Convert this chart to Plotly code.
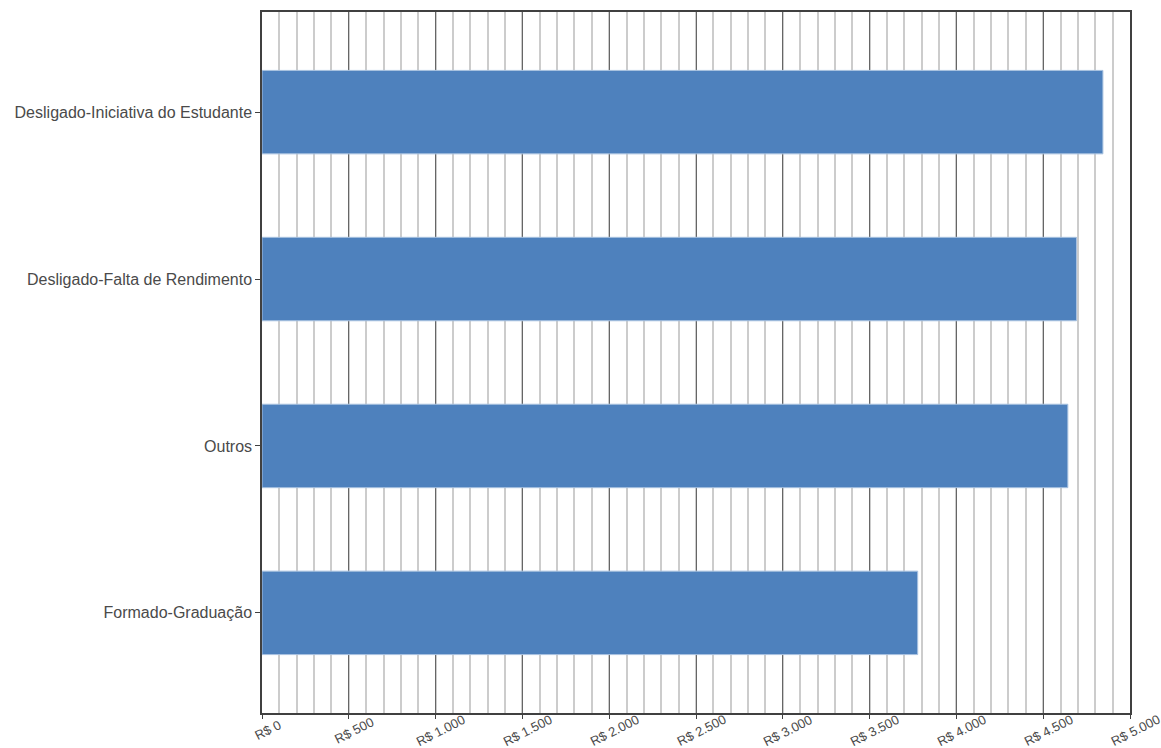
import plotly.graph_objects as go

categories = ["Formado-Graduação", "Outros", "Desligado-Falta de Rendimento", "Desligado-Iniciativa do Estudante"]
values = [3777, 4642, 4692, 4844]
tick_vals = [0, 500, 1000, 1500, 2000, 2500, 3000, 3500, 4000, 4500, 5000]
tick_text = ["R$ 0", "R$ 500", "R$ 1.000", "R$ 1.500", "R$ 2.000", "R$ 2.500",
             "R$ 3.000", "R$ 3.500", "R$ 4.000", "R$ 4.500", "R$ 5.000"]

fig = go.Figure(go.Bar(
    x=values, y=categories, orientation="h",
    marker=dict(color="#4e81bd", line=dict(color="#a9c2e0", width=1)),
    width=0.5,
))

# x tick labels as rotated annotations centred under each tick
for v, t in zip(tick_vals, tick_text):
    fig.add_annotation(
        x=v, xref="x", y=0, yref="paper", text=t, showarrow=False,
        textangle=-27, xanchor="center", yanchor="middle",
        xshift=5, yshift=-17,
        font=dict(family="Liberation Sans, Arial, sans-serif", size=13, color="#4a4a4a"),
    )

fig.update_layout(
    width=1161, height=748,
    margin=dict(l=262, r=31, t=12, b=35, autoexpand=False),
    paper_bgcolor="white", plot_bgcolor="white",
    font=dict(family="Liberation Sans, Arial, sans-serif", size=12, color="#4a4a4a"),
    showlegend=False,
    bargap=0.5,
)
fig.update_xaxes(
    range=[0, 5000], tickvals=tick_vals, showticklabels=False,
    showgrid=True, gridcolor="#666666", gridwidth=1,
    minor=dict(dtick=100, tick0=0, showgrid=True, gridcolor="#cccccc", gridwidth=1.5),
    showline=True, linecolor="#404040", linewidth=1.5, mirror=True,
    ticks="outside", ticklen=4, tickcolor="#404040",
    zeroline=False, automargin=False,
)
fig.update_yaxes(
    range=[-0.6, 3.6], showgrid=False,
    showline=True, linecolor="#404040", linewidth=1.5, mirror=True,
    ticks="outside", ticklen=5, tickcolor="#404040",
    tickfont=dict(size=16, color="#4a4a4a"), automargin=False,
)

fig.write_html("out.html", config={"displayModeBar": False},
               post_script="document.body.style.margin='0';")
